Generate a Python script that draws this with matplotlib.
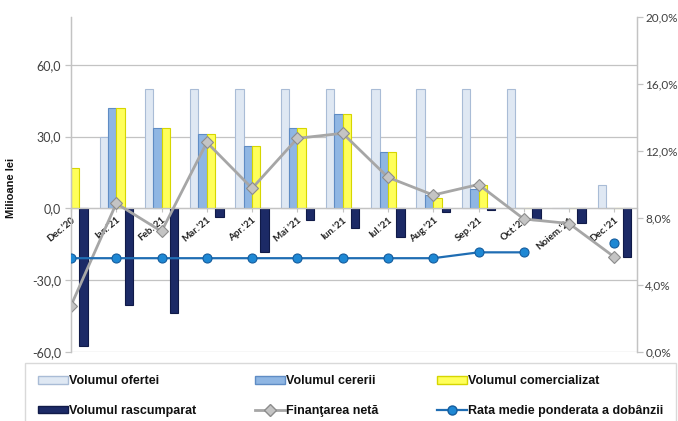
import numpy as np
import matplotlib
matplotlib.use("Agg")
import matplotlib.pyplot as plt
from matplotlib.lines import Line2D
from matplotlib.patches import Patch

categories = ["Dec.'20", "Ian.'21", "Feb.'21", "Mar.'21", "Apr.'21", "Mai '21", "Iun.'21",
              "Iul.'21", "Aug.'21", "Sep.'21", "Oct.'21", "Noiem.'21", "Dec.'21"]
ofertei = [np.nan, 30, 50, 50, 50, 50, 50, 50, 50, 50, 50, 0, 10]
cererii = [np.nan, 42, 33.7, 31.2, 25.9, 33.7, 39.5, 23.7, 5.5, 8.0, 0, 0, 0]
comercializat = [17, 42, 33.5, 31.0, 25.9, 33.5, 39.5, 23.7, 4.5, 10.0, 0, 0, 0]
rascumparat = [-57.7, -40.4, -43.7, -3.6, -18.2, -4.8, -8.2, -11.9, -1.5, -0.7, -4.8, -6.1, -20.3]
finantare = [-40.6, 2.1, -9.6, 27.6, 8.4, 29.3, 31.4, 13.0, 5.6, 10.0, -4.4, -6.3, -20.3]
rata = [5.6, 5.6, 5.6, 5.6, 5.6, 5.6, 5.6, 5.6, 5.6, 5.95, 5.95, np.nan, 6.5]

y_ticks = [-60, -30, 0, 30, 60]
r_ticks = [0, 4, 8, 12, 16, 20]

fig = plt.figure(figsize=(6.78, 4.21), dpi=100)
ax = fig.add_axes([71/678, 1-352/421, (637-71)/678, (352-17)/421])
ax2 = ax.twinx()

x = np.arange(len(categories))
w = 0.185
c_of, e_of = "#dfe8f3", "#a9bcd6"
c_ce, e_ce = "#8fb6e3", "#5f8cc4"
c_co, e_co = "#ffff5a", "#d6d600"
c_ra, e_ra = "#1c2a66", "#101a48"

ax.bar(x - 1.5*w, ofertei, w, color=c_of, edgecolor=e_of, linewidth=0.8, zorder=2)
ax.bar(x - 0.5*w, cererii, w, color=c_ce, edgecolor=e_ce, linewidth=0.8, zorder=2)
ax.bar(x + 0.5*w, comercializat, w, color=c_co, edgecolor=e_co, linewidth=0.8, zorder=2)
ax.bar(x + 1.5*w, rascumparat, w, color=c_ra, edgecolor=e_ra, linewidth=0.8, zorder=2)
ax.plot(x, finantare, color="#a6a6a6", lw=2, marker="D", ms=6,
        mfc="#c4c4c4", mec="#8c8c8c", mew=0.8, zorder=4)

ax2.plot(x, rata, color="#1f6db3", lw=1.6, marker="o", ms=6.5,
         mfc="#1e88d4", mec="#155d9e", mew=0.8, zorder=5)

ax.set_xlim(0, 12.5)
ax.set_ylim(-60, 80)
ax2.set_ylim(0, 20)

grid_c = "#c3c3c3"
ax.set_yticks(y_ticks)
ax.set_yticklabels([f"{v:.1f}".replace(".", ",") for v in y_ticks],
                   fontfamily="Lato", fontsize=9, color="#404040")
ax.yaxis.grid(True, color=grid_c, lw=0.9)
ax.set_axisbelow(True)
ax.tick_params(axis="y", length=4, color=grid_c, width=0.9, pad=3)

ax2.set_yticks(r_ticks)
ax2.set_yticklabels([f"{v:.1f}%".replace(".", ",") for v in r_ticks],
                    fontfamily="Lato", fontsize=8.5, color="#404040")
ax2.tick_params(axis="y", length=4, color=grid_c, width=0.9, pad=2)

ax.spines["bottom"].set_position(("data", 0))
for a in (ax, ax2):
    a.spines["top"].set_visible(False)
    for s in ("left", "right", "bottom"):
        a.spines[s].set_color(grid_c)
        a.spines[s].set_linewidth(0.9)
ax2.spines["bottom"].set_visible(False)

ax.set_xticks(x)
ax.set_xticklabels(categories, rotation=40, ha="right", va="top",
                   rotation_mode="anchor", fontfamily="Lato", fontweight="bold",
                   fontsize=7, color="#222222")
ax.tick_params(axis="x", length=3, color=grid_c, pad=2)

fig.text(11/678, 1-188/421, "Milioane lei", rotation=90, ha="center", va="center",
         fontfamily=["Liberation Sans", "DejaVu Sans"], fontweight="bold", fontsize=8, color="#111111")

handles = [
    Patch(facecolor=c_of, edgecolor=e_of, label="Volumul ofertei"),
    Patch(facecolor=c_ra, edgecolor=e_ra, label="Volumul rascumparat"),
    Patch(facecolor=c_ce, edgecolor=e_ce, label="Volumul cererii"),
    Line2D([], [], color="#a6a6a6", lw=2, marker="D", ms=6, mfc="#c4c4c4", mec="#8c8c8c",
           label="Finanţarea netă"),
    Patch(facecolor=c_co, edgecolor=e_co, label="Volumul comercializat"),
    Line2D([], [], color="#1f6db3", lw=1.6, marker="o", ms=6.5, mfc="#1e88d4", mec="#155d9e",
           label="Rata medie ponderata a dobânzii"),
]
leg = fig.legend(handles=handles, ncol=3, loc="lower left",
                 bbox_to_anchor=(25/678, -0.02, (676-25)/678, 62/421), mode="expand",
                 frameon=True, fancybox=False, edgecolor="#d0d0d0", handlelength=2.4,
                 handleheight=0.55, handletextpad=0.1, borderaxespad=0, borderpad=1.0,
                 labelspacing=1.4, columnspacing=1.0,
                 prop={"family": ["Liberation Sans Narrow", "Liberation Sans", "DejaVu Sans"],
                       "weight": "bold", "size": 9})
for t in leg.get_texts():
    t.set_color("#111111")

fig.savefig("out.png", dpi=100)
